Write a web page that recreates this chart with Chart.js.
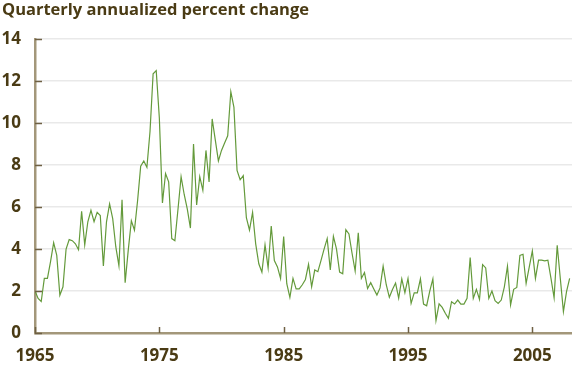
<!DOCTYPE html>
<html>
<head>
<meta charset="utf-8">
<script src="https://cdn.jsdelivr.net/npm/chart.js@4/dist/chart.umd.min.js"></script>
<style>
  html, body { margin: 0; padding: 0; background: #fff; }
  #wrap { width: 572px; height: 371px; position: relative; }
</style>
</head>
<body>
<div id="wrap"><canvas id="chart"></canvas></div>
<script>
// Título y datos del gráfico
const titleText = 'Quarterly annualized percent change';
const firstYear = 1965;          // primer trimestre: 1965 T1
const yearTicks = [1965, 1975, 1985, 1995, 2005];
const yTicks = [0, 2, 4, 6, 8, 10, 12, 14];

// variación trimestral anualizada (%), 1965 T1 - 2008 T1
const pctChange = [
  2.0, 1.65, 1.5, 2.6, 2.6, 3.4, 4.3, 3.7, 1.8, 2.2,
  4.0, 4.45, 4.4, 4.25, 3.97, 5.8, 4.2, 5.3, 5.85, 5.3,
  5.75, 5.6, 3.2, 5.3, 6.15, 5.45, 4.1, 3.2, 6.35, 2.4,
  3.95, 5.35, 4.9, 6.3, 7.95, 8.2, 7.9, 9.6, 12.35, 12.5,
  10.25, 6.2, 7.6, 7.2, 4.5, 4.4, 5.9, 7.45, 6.6, 5.9,
  5.0, 9.0, 6.1, 7.45, 6.8, 8.7, 7.2, 10.2, 9.2, 8.2,
  8.7, 9.05, 9.4, 11.5, 10.75, 7.75, 7.3, 7.5, 5.5, 4.9,
  5.75, 4.25, 3.3, 2.9, 4.2, 3.1, 5.1, 3.45, 3.15, 2.6,
  4.6, 2.35, 1.7, 2.6, 2.1, 2.1, 2.3, 2.55, 3.27, 2.2,
  3.0, 2.92, 3.45, 4.0, 4.5, 3.0, 4.6, 4.0, 2.9, 2.82,
  4.92, 4.72, 3.8, 2.95, 4.78, 2.6, 2.88, 2.12, 2.4, 2.1,
  1.81, 2.15, 3.18, 2.3, 1.7, 2.07, 2.38, 1.66, 2.58, 1.92,
  2.6, 1.41, 1.91, 1.91, 2.58, 1.38, 1.3, 2.0, 2.58, 0.59,
  1.39, 1.22, 0.94, 0.7, 1.49, 1.38, 1.57, 1.38, 1.38, 1.65,
  3.6, 1.65, 2.08, 1.6, 3.26, 3.1, 1.65, 2.0, 1.54, 1.41,
  1.57, 2.2, 3.18, 1.34, 2.08, 2.17, 3.7, 3.75, 2.36, 3.14,
  3.91, 2.6, 3.47, 3.47, 3.44, 3.47, 2.6, 1.68, 4.18, 2.6,
  1.02, 1.97, 2.6
];

const colors = {
  line: '#649a3b',
  text: '#4a3b14',
  axis: '#a3977a',
  grid: '#e9e9e9',
  tick: '#6f6044'
};

// marcas de eje hacia dentro del área del gráfico
const innerTicks = {
  id: 'innerTicks',
  afterDatasetsDraw(chart) {
    const { ctx, chartArea: a, scales: { x, y } } = chart;
    ctx.save();
    ctx.strokeStyle = colors.tick;
    ctx.lineWidth = 1.5;
    y.ticks.forEach(t => {
      const py = Math.round(y.getPixelForValue(t.value)) + 0.5;
      ctx.beginPath();
      ctx.moveTo(a.left, py);
      ctx.lineTo(a.left + 7, py);
      ctx.stroke();
    });
    x.ticks.forEach(t => {
      const px = Math.round(x.getPixelForValue(t.value)) + 0.5;
      ctx.beginPath();
      ctx.moveTo(px, a.bottom);
      ctx.lineTo(px, a.bottom - 6);
      ctx.stroke();
    });
    ctx.restore();
  }
};

const font = { family: '"Open Sans", "Liberation Sans", sans-serif', weight: 'bold' };

new Chart(document.getElementById('chart').getContext('2d'), {
  type: 'line',
  data: {
    datasets: [{
      data: pctChange.map((v, i) => ({ x: firstYear + i / 4, y: v })),
      borderColor: colors.line,
      borderWidth: 1.2,
      pointRadius: 0,
      tension: 0,
      fill: false
    }]
  },
  options: {
    responsive: true,
    maintainAspectRatio: false,
    animation: false,
    devicePixelRatio: 1,
    layout: { padding: { top: 0, left: 2, right: 0, bottom: 0 } },
    plugins: {
      legend: { display: false },
      tooltip: { enabled: false },
      title: {
        display: true,
        text: titleText,
        align: 'start',
        color: colors.text,
        font: { ...font, size: 16.5 },
        padding: { top: 0, bottom: 19.4 }
      }
    },
    scales: {
      x: {
        type: 'linear',
        min: 1965,
        max: 2008.19,
        afterFit: s => { s.height = 38; },
        afterBuildTicks: s => { s.ticks = yearTicks.map(v => ({ value: v })); },
        grid: { display: false, drawTicks: false },
        border: { display: true, color: colors.axis, width: 2.5 },
        ticks: {
          color: colors.text,
          font: { ...font, size: 17 },
          padding: 13,
          maxRotation: 0,
          callback: v => String(v)
        }
      },
      y: {
        min: 0,
        max: 14,
        afterFit: s => { s.width = 33; },
        afterBuildTicks: s => { s.ticks = yTicks.map(v => ({ value: v })); },
        grid: {
          drawTicks: false,
          lineWidth: 1.5,
          color: ctx => (ctx.tick && ctx.tick.value === 0) ? 'rgba(0,0,0,0)' : colors.grid
        },
        border: { display: true, color: colors.axis, width: 2.5 },
        ticks: {
          color: colors.text,
          font: { ...font, size: 17 },
          padding: 14
        }
      }
    }
  },
  plugins: [innerTicks]
});
</script>
</body>
</html>
